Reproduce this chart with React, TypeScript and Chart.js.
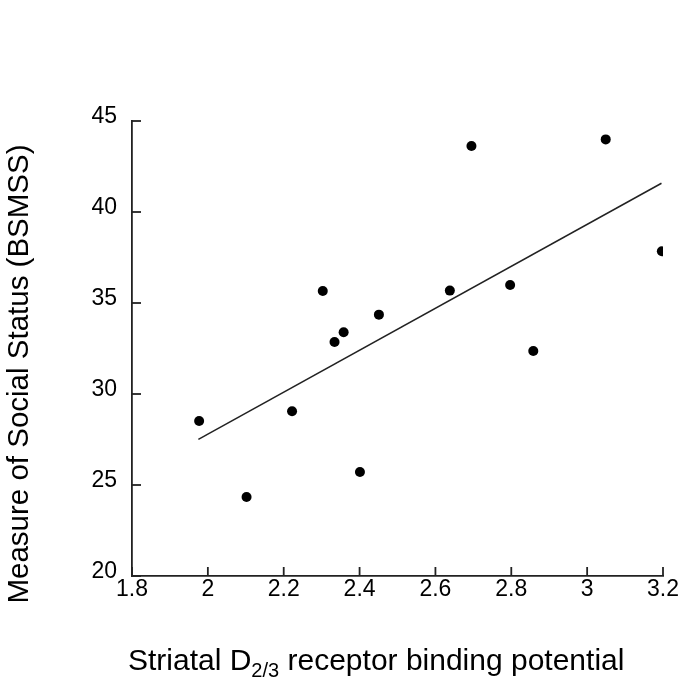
import React, { useEffect, useRef } from "react";
import { Chart, registerables } from "chart.js";

Chart.register(...registerables);

// Data
const xValues = [1.977, 2.102, 2.222, 2.303, 2.334, 2.358, 2.401, 2.451, 2.638, 2.695, 2.797, 2.858, 3.049, 3.197];
const yValues = [28.52, 24.34, 29.05, 35.66, 32.86, 33.39, 25.71, 34.36, 35.68, 43.63, 35.99, 32.36, 43.99, 37.84];
const fitX = [1.975, 3.196];
const fitY = [27.51, 41.58];

const xTitleMain = "Striatal D";
const xTitleSub = "2/3";
const xTitleRest = " receptor binding potential";
const yTitle = "Measure of Social Status (BSMSS)";

const FONT = "'Liberation Sans', Arial, Helvetica, sans-serif";
const W = 681;
const H = 686;

const inwardTicks = {
  id: "inwardTicks",
  afterDatasetsDraw(chart: any) {
    const ctx = chart.ctx;
    const xs = chart.scales.x;
    const ys = chart.scales.y;
    const area = chart.chartArea;
    ctx.save();
    ctx.strokeStyle = "#222";
    ctx.lineWidth = 1.8;
    xs.ticks.forEach((t: any) => {
      const px = xs.getPixelForValue(t.value);
      ctx.beginPath();
      ctx.moveTo(px, area.bottom);
      ctx.lineTo(px, area.bottom - 9);
      ctx.stroke();
    });
    ys.ticks.forEach((t: any) => {
      const py = ys.getPixelForValue(t.value);
      ctx.beginPath();
      ctx.moveTo(area.left, py);
      ctx.lineTo(area.left + 9, py);
      ctx.stroke();
    });
    ctx.restore();
  },
  afterDraw(chart: any) {
    const ctx = chart.ctx;
    ctx.save();
    ctx.fillStyle = "#000";
    // y title
    ctx.save();
    ctx.translate(28, 374);
    ctx.rotate(-Math.PI / 2);
    ctx.font = `29.5px ${FONT}`;
    ctx.textAlign = "center";
    ctx.textBaseline = "alphabetic";
    ctx.fillText(yTitle, 0, 0);
    ctx.restore();
    // x title with subscript
    ctx.textAlign = "left";
    ctx.textBaseline = "alphabetic";
    let x = 128;
    const base = 670;
    ctx.font = `30px ${FONT}`;
    ctx.fillText(xTitleMain, x, base);
    x += ctx.measureText(xTitleMain).width;
    ctx.font = `20px ${FONT}`;
    ctx.fillText(xTitleSub, x, base + 7);
    x += ctx.measureText(xTitleSub).width;
    ctx.font = `30px ${FONT}`;
    ctx.fillText(xTitleRest, x, base);
    ctx.restore();
  },
};

export default function App() {
  const ref = useRef<HTMLCanvasElement | null>(null);
  useEffect(() => {
    if (!ref.current) return;
    const chart = new Chart(ref.current, {
      type: "scatter",
      data: {
        datasets: [
          {
            type: "scatter",
            data: xValues.map((x, i) => ({ x, y: yValues[i] })),
            backgroundColor: "#000",
            borderWidth: 0,
            pointRadius: 5,
            pointHoverRadius: 5,
            order: 0,
          },
          {
            type: "line",
            data: fitX.map((x, i) => ({ x, y: fitY[i] })),
            borderColor: "#222",
            borderWidth: 1.5,
            pointRadius: 0,
            fill: false,
            order: 1,
          },
        ],
      } as any,
      options: {
        responsive: false,
        animation: false,
        events: [],
        layout: { padding: { top: 121, right: 18, left: 0, bottom: 0 } },
        plugins: { legend: { display: false }, tooltip: { enabled: false } },
        scales: {
          x: {
            type: "linear",
            min: 1.8,
            max: 3.2,
            grid: { drawOnChartArea: false, drawTicks: false },
            border: { display: true, color: "#222", width: 1.8 },
            ticks: {
              stepSize: 0.2,
              padding: 0,
              color: "#000",
              font: { family: FONT, size: 23 },
              maxRotation: 0,
              callback: (v: any) => String(Math.round(Number(v) * 10) / 10),
            },
            afterFit: (s: any) => {
              s.height = 110;
            },
          },
          y: {
            type: "linear",
            min: 20,
            max: 45,
            grid: { drawOnChartArea: false, drawTicks: false },
            border: { display: true, color: "#222", width: 1.8 },
            ticks: {
              stepSize: 5,
              padding: 15,
              labelOffset: -4,
              color: "#000",
              font: { family: FONT, size: 23 },
            },
            afterFit: (s: any) => {
              s.width = 132;
            },
          },
        },
      },
      plugins: [inwardTicks],
    });
    return () => chart.destroy();
  }, []);
  return (
    <div style={{ position: "fixed", left: 0, top: 0, width: W, height: H, background: "#fff" }}>
      <canvas ref={ref} width={W} height={H} style={{ width: W, height: H, display: "block" }} />
    </div>
  );
}
